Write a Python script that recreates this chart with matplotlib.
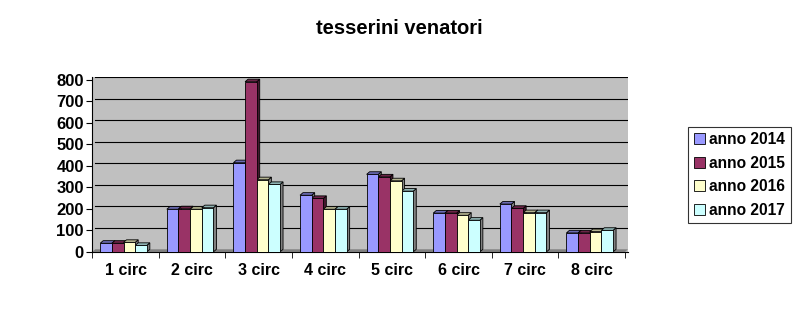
import numpy as np
import matplotlib
matplotlib.use("Agg")
import matplotlib.pyplot as plt
from matplotlib.patches import Polygon, Patch
import matplotlib.colors as mcolors

plt.rcParams['font.family'] = ['Liberation Sans', 'DejaVu Sans']

# data
categories = ['1 circ', '2 circ', '3 circ', '4 circ', '5 circ', '6 circ', '7 circ', '8 circ']
series_names = ['anno 2014', 'anno 2015', 'anno 2016', 'anno 2017']
anno_2014 = [40, 198, 414, 263, 360, 180, 222, 88]
anno_2015 = [40, 200, 790, 248, 348, 180, 202, 88]
anno_2016 = [44, 198, 335, 198, 330, 170, 182, 94]
anno_2017 = [30, 205, 313, 198, 282, 147, 182, 100]
y_ticks = [0, 100, 200, 300, 400, 500, 600, 700, 800]

series = [anno_2014, anno_2015, anno_2016, anno_2017]
colors = ['#9999FF', '#993366', '#FFFFCC', '#CCFFFF']

fig = plt.figure(figsize=(7.95, 3.25), dpi=100)
ax = fig.add_axes([0.116, 0.225, 0.674, 0.538])
ax.set_facecolor('#C0C0C0')

x = np.arange(len(categories))
bw = 0.175
dx = 0.045   # depth shift in x (data units)
dy = 12      # depth shift in y (data units)

def darker(c, f):
    r, g, b = mcolors.to_rgb(c)
    return (r * f, g * f, b * f)

for i, vals in enumerate(series):
    xs = x - 1.5 * bw + i * bw - 0.03
    for xx, v in zip(xs, vals):
        l, r = xx - bw / 2, xx + bw / 2
        # side face
        ax.add_patch(Polygon([[r, 0], [r + dx, dy], [r + dx, v + dy], [r, v]],
                             closed=True, fc=darker(colors[i], 0.45) if i == 1 else '#808080',
                             ec='black', lw=0.6, zorder=3))
        # top face
        ax.add_patch(Polygon([[l, v], [l + dx, v + dy], [r + dx, v + dy], [r, v]],
                             closed=True, fc=darker(colors[i], 0.7), ec='black', lw=0.6, zorder=3))
    ax.bar(xs, vals, width=bw, color=colors[i], edgecolor='black', linewidth=0.6, zorder=4)

# floor
ax.add_patch(Polygon([[-0.5, 0], [-0.5 + dx, dy], [7.5 + dx, dy], [7.5, 0]],
                     closed=True, fc='#808080', ec='none', zorder=2))

ax.set_xlim(-0.5, 7.5 + dx)
ax.set_ylim(0, 800 + dy)
ax.set_yticks(y_ticks)
ax.set_yticklabels([str(t) for t in y_ticks], fontsize=12, fontweight='bold')
for t in y_ticks[1:]:
    ax.plot([-0.5 + dx, 7.5 + dx], [t + dy, t + dy], color='black', lw=0.8, zorder=1)
ax.set_xticks(x)
ax.set_xticklabels(categories, fontsize=11.5, fontweight='bold')
ax.set_xticks(np.arange(-0.5, 8.0, 1), minor=True)
ax.tick_params(axis='x', which='major', length=0, pad=8)
ax.tick_params(axis='x', which='minor', length=4, direction='out')
ax.tick_params(axis='y', length=4, direction='out', pad=2)
ax.spines['top'].set_visible(False)
ax.spines['right'].set_visible(False)

fig.suptitle('tesserini venatori', fontsize=14.5, fontweight='bold', x=0.502, y=0.94)

handles = [Patch(facecolor=c, edgecolor='black', linewidth=0.6) for c in colors]
leg = fig.legend(handles, series_names, loc='upper left', bbox_to_anchor=(0.866, 0.61),
                 borderaxespad=0, prop={'size': 11.2, 'weight': 'bold'}, frameon=True,
                 fancybox=False, handlelength=0.7, handleheight=0.7, handletextpad=0.3,
                 labelspacing=0.55, borderpad=0.35)
leg.get_frame().set_edgecolor('black')
leg.get_frame().set_linewidth(0.8)

fig.savefig('out.png', dpi=100)
